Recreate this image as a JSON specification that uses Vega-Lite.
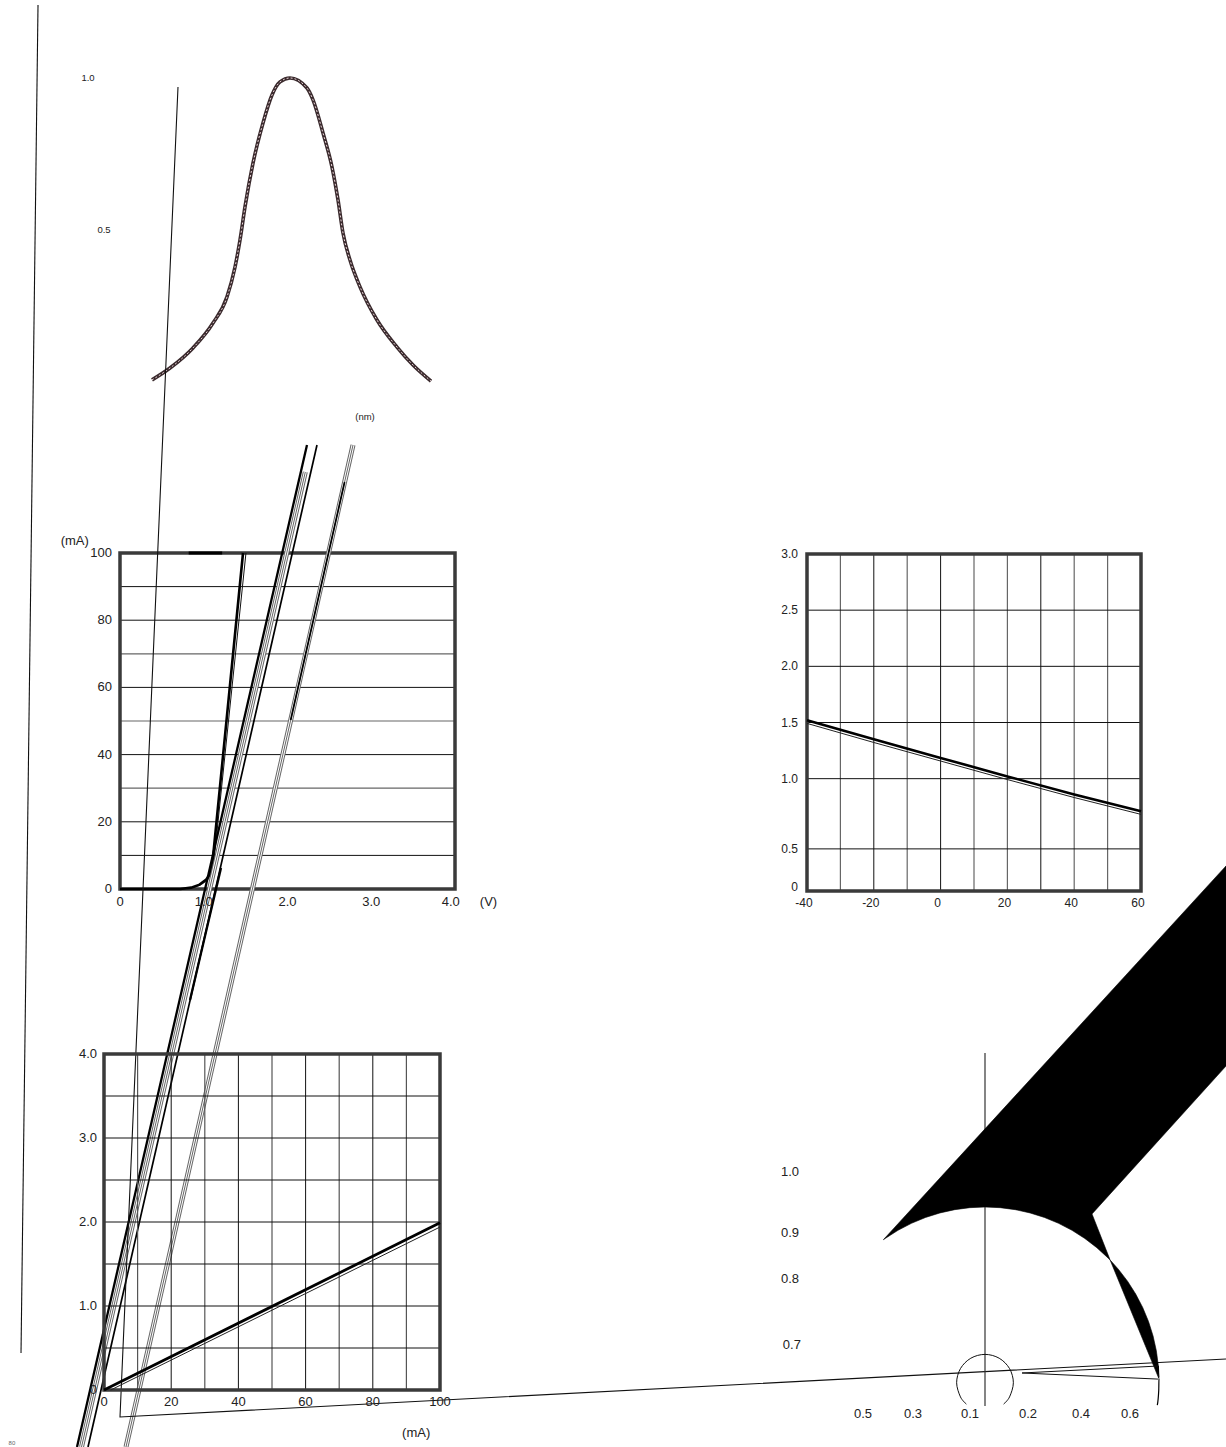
{
  "$schema": "https://vega.github.io/schema/vega-lite/v6.json",
  "width": 1226,
  "height": 1447,
  "padding": 0,
  "autosize": {"type": "none"},
  "background": "white",
  "config": {
    "view": {"stroke": null},
    "text": {"font": "Liberation Sans", "fontSize": 13, "fill": "#222"}
  },
  "datasets": {
    "spectrum": [
      {"x": 551, "y": 0.007}, {"x": 560, "y": 0.046}, {"x": 571.5, "y": 0.112}, {"x": 581.5, "y": 0.194},
      {"x": 588.5, "y": 0.28}, {"x": 592.5, "y": 0.378}, {"x": 595, "y": 0.467}, {"x": 597.5, "y": 0.576},
      {"x": 601.5, "y": 0.72}, {"x": 606.5, "y": 0.852}, {"x": 611, "y": 0.944}, {"x": 615, "y": 0.987},
      {"x": 620, "y": 1.0}, {"x": 628.5, "y": 0.967}, {"x": 631.5, "y": 0.928}, {"x": 636.5, "y": 0.819},
      {"x": 641, "y": 0.707}, {"x": 644, "y": 0.599}, {"x": 646.5, "y": 0.49}, {"x": 650, "y": 0.401},
      {"x": 655, "y": 0.313}, {"x": 663.5, "y": 0.204}, {"x": 673.5, "y": 0.115}, {"x": 681.5, "y": 0.056},
      {"x": 690.5, "y": 0.003}
    ],
    "ivBundles": [
      {"id": "g1", "i": 0, "x": 2.2125, "y": 124.1}, {"id": "g1", "i": 1, "x": -0.4597, "y": -166.07},
      {"id": "g2", "i": 0, "x": 2.7821, "y": 132.14}, {"id": "g2", "i": 1, "x": 0.0716, "y": -166.07}
    ],
    "circleD": [
      {"i": 0, "x": 0.107, "y": -0.133}, {"i": 1, "x": 0.141, "y": -0.0915}, {"i": 2, "x": 0.163, "y": -0.01},
      {"i": 3, "x": 0.141, "y": 0.0715}, {"i": 4, "x": 0.0815, "y": 0.131}, {"i": 5, "x": 0, "y": 0.153},
      {"i": 6, "x": -0.0815, "y": 0.131}, {"i": 7, "x": -0.141, "y": 0.0715}, {"i": 8, "x": -0.163, "y": -0.01},
      {"i": 9, "x": -0.141, "y": -0.0915}, {"i": 10, "x": -0.107, "y": -0.133}
    ]
  },
  "resolve": {"scale": {"x": "independent", "y": "independent"}},
  "layer": [
    {
      "encoding": {
        "x": {"field": "x", "type": "quantitative", "scale": {"domain": [540, 720], "range": [130, 490], "nice": false, "zero": false}, "axis": null},
        "y": {"field": "y", "type": "quantitative", "scale": {"domain": [0, 1], "range": [382, 78], "nice": false, "zero": false}, "axis": null}
      },
      "layer": [
        {"data": {"name": "spectrum"}, "mark": {"type": "line", "stroke": "#3a2a2d", "strokeWidth": 3.6, "interpolate": "monotone"}},
        {"data": {"name": "spectrum"}, "mark": {"type": "line", "stroke": "#ead5d9", "strokeWidth": 1, "strokeDash": [2, 2], "interpolate": "monotone"}},
        {
          "data": {"values": [
            {"x": 519, "y": 1.0, "label": "1.0"},
            {"x": 527, "y": 0.5, "label": "0.5"},
            {"x": 657.5, "y": -0.115, "label": "(nm)"}
          ]},
          "mark": {"type": "text", "fontSize": 9.5},
          "encoding": {"text": {"field": "label"}}
        }
      ]
    },
    {
      "encoding": {
        "x": {"field": "x", "type": "quantitative", "scale": {"domain": [0, 4], "range": [120, 455], "nice": false, "zero": false}, "axis": null},
        "y": {"field": "y", "type": "quantitative", "scale": {"domain": [0, 100], "range": [889, 553], "nice": false, "zero": false}, "axis": null}
      },
      "layer": [
        {
          "data": {"values": [{"x": 0, "x2": 4, "y": 10}, {"x": 0, "x2": 4, "y": 20}, {"x": 0, "x2": 4, "y": 40}, {"x": 0, "x2": 4, "y": 60}, {"x": 0, "x2": 4, "y": 80}, {"x": 0, "x2": 4, "y": 90}]},
          "mark": {"type": "rule", "stroke": "#111", "strokeWidth": 1},
          "encoding": {"x2": {"field": "x2"}}
        },
        {
          "data": {"values": [{"x": 0, "x2": 4, "y": 30}, {"x": 0, "x2": 4, "y": 50}, {"x": 0, "x2": 4, "y": 70}]},
          "mark": {"type": "rule", "stroke": "#666", "strokeWidth": 1.2},
          "encoding": {"x2": {"field": "x2"}}
        },
        {
          "data": {"values": [{"x": 0, "x2": 4, "y": 0, "y2": 100}]},
          "mark": {"type": "rect", "filled": false, "stroke": "#3a3a3a", "strokeWidth": 3.5},
          "encoding": {"x2": {"field": "x2"}, "y2": {"field": "y2"}}
        },
        {
          "data": {"values": [{"x": 0.82, "y": 100}, {"x": 1.22, "y": 100}]},
          "mark": {"type": "line", "stroke": "#000", "strokeWidth": 3}
        },
        {
          "data": {"values": [
            {"x": 0.78, "y": 0}, {"x": 0.9, "y": 0.6}, {"x": 1.0, "y": 1.8}, {"x": 1.08, "y": 3.6}, {"x": 1.13, "y": 5.5}
          ]},
          "mark": {"type": "line", "stroke": "#555", "strokeWidth": 1, "interpolate": "monotone"}
        },
        {
          "data": {"values": [{"x": 1.11, "y": 5.5}, {"x": 1.504, "y": 100}]},
          "mark": {"type": "line", "stroke": "#111", "strokeWidth": 1}
        },
        {
          "data": {"values": [
            {"x": 0, "y": 0}, {"x": 0.72, "y": 0}, {"x": 0.85, "y": 0.4}, {"x": 0.95, "y": 1.3},
            {"x": 1.03, "y": 2.8}, {"x": 1.075, "y": 4.4}, {"x": 1.098, "y": 6.25}, {"x": 1.469, "y": 100}
          ]},
          "mark": {"type": "line", "stroke": "#000", "strokeWidth": 2.6}
        },
        {"data": {"name": "ivBundles"}, "mark": {"type": "line", "stroke": "#666", "strokeWidth": 5}, "encoding": {"detail": {"field": "id"}, "order": {"field": "i"}}},
        {"data": {"name": "ivBundles"}, "mark": {"type": "line", "stroke": "#fff", "strokeWidth": 3}, "encoding": {"detail": {"field": "id"}, "order": {"field": "i"}}},
        {"data": {"name": "ivBundles"}, "mark": {"type": "line", "stroke": "#666", "strokeWidth": 1}, "encoding": {"detail": {"field": "id"}, "order": {"field": "i"}}},
        {
          "data": {"values": [
            {"id": "a", "i": 0, "x": 2.2328, "y": 132.14}, {"id": "a", "i": 1, "x": -0.5134, "y": -166.07},
            {"id": "s", "i": 0, "x": 1.206, "y": 6.25}, {"id": "s", "i": 1, "x": 0.836, "y": -33.04}
          ]},
          "mark": {"type": "line", "stroke": "#000", "strokeWidth": 2.3},
          "encoding": {"detail": {"field": "id"}, "order": {"field": "i"}}
        },
        {
          "data": {"values": [
            {"id": "b", "i": 0, "x": 2.3522, "y": 132.14}, {"id": "b", "i": 1, "x": -0.3821, "y": -166.07},
            {"id": "c", "i": 0, "x": 2.6818, "y": 121.13}, {"id": "c", "i": 1, "x": 2.0382, "y": 50.3}
          ]},
          "mark": {"type": "line", "stroke": "#000", "strokeWidth": 1.7},
          "encoding": {"detail": {"field": "id"}, "order": {"field": "i"}}
        },
        {
          "data": {"values": [
            {"id": "t", "i": 0, "x": 0.6925, "y": 238.69}, {"id": "t", "i": 1, "x": 0, "y": -157.14}, {"id": "t", "i": 2, "x": 13.206, "y": -139.88},
            {"id": "e", "i": 0, "x": -0.979, "y": 263.1}, {"id": "e", "i": 1, "x": -1.182, "y": -138.1}
          ]},
          "mark": {"type": "line", "stroke": "#111", "strokeWidth": 1.1},
          "encoding": {"detail": {"field": "id"}, "order": {"field": "i"}}
        },
        {
          "data": {"values": [{"x": 0, "y": 0, "label": "0"}, {"x": 1, "y": 0, "label": "1.0"}, {"x": 2, "y": 0, "label": "2.0"}, {"x": 3, "y": 0, "label": "3.0"}, {"x": 3.95, "y": 0, "label": "4.0"}]},
          "mark": {"type": "text", "baseline": "middle", "dy": 13},
          "encoding": {"text": {"field": "label"}}
        },
        {
          "data": {"values": [{"x": 0, "y": 0, "label": "0"}, {"x": 0, "y": 20, "label": "20"}, {"x": 0, "y": 40, "label": "40"}, {"x": 0, "y": 60, "label": "60"}, {"x": 0, "y": 80, "label": "80"}, {"x": 0, "y": 100, "label": "100"}]},
          "mark": {"type": "text", "align": "right", "baseline": "middle", "dx": -8},
          "encoding": {"text": {"field": "label"}}
        },
        {
          "data": {"values": [{"x": -0.54, "y": 103.6, "label": "(mA)"}, {"x": 4.4, "y": -3.9, "label": "(V)"}]},
          "mark": {"type": "text", "baseline": "middle"},
          "encoding": {"text": {"field": "label"}}
        }
      ]
    },
    {
      "encoding": {
        "x": {"field": "x", "type": "quantitative", "scale": {"domain": [-40, 60], "range": [807, 1141], "nice": false, "zero": false}, "axis": null},
        "y": {"field": "y", "type": "quantitative", "scale": {"domain": [0, 3], "range": [891, 554], "nice": false, "zero": false}, "axis": null}
      },
      "layer": [
        {
          "data": {"values": [{"x": -20, "y": 0, "y2": 3}, {"x": 0, "y": 0, "y2": 3}, {"x": 30, "y": 0, "y2": 3}]},
          "mark": {"type": "rule", "stroke": "#111", "strokeWidth": 1},
          "encoding": {"y2": {"field": "y2"}}
        },
        {
          "data": {"values": [{"x": -30, "y": 0, "y2": 3}, {"x": -10, "y": 0, "y2": 3}, {"x": 10, "y": 0, "y2": 3}, {"x": 20, "y": 0, "y2": 3}, {"x": 40, "y": 0, "y2": 3}, {"x": 50, "y": 0, "y2": 3}]},
          "mark": {"type": "rule", "stroke": "#666", "strokeWidth": 1.2},
          "encoding": {"y2": {"field": "y2"}}
        },
        {
          "data": {"values": [{"x": -40, "x2": 60, "y": 0.375}, {"x": -40, "x2": 60, "y": 1.0}, {"x": -40, "x2": 60, "y": 1.5}, {"x": -40, "x2": 60, "y": 2.0}, {"x": -40, "x2": 60, "y": 2.5}]},
          "mark": {"type": "rule", "stroke": "#111", "strokeWidth": 1},
          "encoding": {"x2": {"field": "x2"}}
        },
        {
          "data": {"values": [{"x": -40, "x2": 60, "y": 0, "y2": 3}]},
          "mark": {"type": "rect", "filled": false, "stroke": "#3a3a3a", "strokeWidth": 3.5},
          "encoding": {"x2": {"field": "x2"}, "y2": {"field": "y2"}}
        },
        {
          "data": {"values": [{"x": -40, "y": 1.492}, {"x": -20, "y": 1.322}, {"x": 0, "y": 1.157}, {"x": 20, "y": 0.992}, {"x": 40, "y": 0.832}, {"x": 60, "y": 0.682}]},
          "mark": {"type": "line", "stroke": "#222", "strokeWidth": 1}
        },
        {
          "data": {"values": [{"x": -40, "y": 1.52}, {"x": -20, "y": 1.35}, {"x": 0, "y": 1.185}, {"x": 20, "y": 1.02}, {"x": 40, "y": 0.86}, {"x": 60, "y": 0.71}]},
          "mark": {"type": "line", "stroke": "#000", "strokeWidth": 2.6}
        },
        {
          "data": {"values": [{"x": -40, "y": 0, "label": "-40"}, {"x": -20, "y": 0, "label": "-20"}, {"x": 0, "y": 0, "label": "0"}, {"x": 20, "y": 0, "label": "20"}, {"x": 40, "y": 0, "label": "40"}, {"x": 60, "y": 0, "label": "60"}]},
          "mark": {"type": "text", "baseline": "middle", "dy": 12, "dx": -3, "fontSize": 12},
          "encoding": {"text": {"field": "label"}}
        },
        {
          "data": {"values": [{"x": -40, "y": 0.375, "label": "0.5"}, {"x": -40, "y": 1.0, "label": "1.0"}, {"x": -40, "y": 1.5, "label": "1.5"}, {"x": -40, "y": 2.0, "label": "2.0"}, {"x": -40, "y": 2.5, "label": "2.5"}, {"x": -40, "y": 3.0, "label": "3.0"}]},
          "mark": {"type": "text", "align": "right", "baseline": "middle", "dx": -9, "fontSize": 12},
          "encoding": {"text": {"field": "label"}}
        },
        {
          "data": {"values": [{"x": -40, "y": 0, "label": "0"}]},
          "mark": {"type": "text", "align": "right", "baseline": "middle", "dx": -9, "dy": -4, "fontSize": 12},
          "encoding": {"text": {"field": "label"}}
        }
      ]
    },
    {
      "encoding": {
        "x": {"field": "x", "type": "quantitative", "scale": {"domain": [0, 100], "range": [104, 440], "nice": false, "zero": false}, "axis": null},
        "y": {"field": "y", "type": "quantitative", "scale": {"domain": [0, 4], "range": [1390, 1054], "nice": false, "zero": false}, "axis": null}
      },
      "layer": [
        {
          "data": {"values": [{"x": 20, "y": 0, "y2": 4}, {"x": 40, "y": 0, "y2": 4}, {"x": 60, "y": 0, "y2": 4}, {"x": 80, "y": 0, "y2": 4}]},
          "mark": {"type": "rule", "stroke": "#111", "strokeWidth": 1},
          "encoding": {"y2": {"field": "y2"}}
        },
        {
          "data": {"values": [{"x": 10, "y": 0, "y2": 4}, {"x": 30, "y": 0, "y2": 4}, {"x": 50, "y": 0, "y2": 4}, {"x": 70, "y": 0, "y2": 4}, {"x": 90, "y": 0, "y2": 4}]},
          "mark": {"type": "rule", "stroke": "#555", "strokeWidth": 1.2},
          "encoding": {"y2": {"field": "y2"}}
        },
        {
          "data": {"values": [{"x": 0, "x2": 100, "y": 0.5}, {"x": 0, "x2": 100, "y": 1.0}, {"x": 0, "x2": 100, "y": 1.5}, {"x": 0, "x2": 100, "y": 2.0}, {"x": 0, "x2": 100, "y": 2.5}, {"x": 0, "x2": 100, "y": 3.0}, {"x": 0, "x2": 100, "y": 3.5}]},
          "mark": {"type": "rule", "stroke": "#111", "strokeWidth": 1},
          "encoding": {"x2": {"field": "x2"}}
        },
        {
          "data": {"values": [{"x": 0, "x2": 100, "y": 0, "y2": 4}]},
          "mark": {"type": "rect", "filled": false, "stroke": "#3a3a3a", "strokeWidth": 3.5},
          "encoding": {"x2": {"field": "x2"}, "y2": {"field": "y2"}}
        },
        {
          "data": {"values": [{"x": 2, "y": 0}, {"x": 100, "y": 1.94}]},
          "mark": {"type": "line", "stroke": "#222", "strokeWidth": 1}
        },
        {
          "data": {"values": [{"x": 0, "y": 0}, {"x": 100, "y": 1.99}]},
          "mark": {"type": "line", "stroke": "#000", "strokeWidth": 2.8}
        },
        {
          "data": {"values": [{"x": 0, "y": 0, "label": "0"}, {"x": 20, "y": 0, "label": "20"}, {"x": 40, "y": 0, "label": "40"}, {"x": 60, "y": 0, "label": "60"}, {"x": 80, "y": 0, "label": "80"}, {"x": 100, "y": 0, "label": "100"}]},
          "mark": {"type": "text", "baseline": "middle", "dy": 12},
          "encoding": {"text": {"field": "label"}}
        },
        {
          "data": {"values": [{"x": 0, "y": 0, "label": "0"}, {"x": 0, "y": 1, "label": "1.0"}, {"x": 0, "y": 2, "label": "2.0"}, {"x": 0, "y": 3, "label": "3.0"}, {"x": 0, "y": 4, "label": "4.0"}]},
          "mark": {"type": "text", "align": "right", "baseline": "middle", "dx": -7},
          "encoding": {"text": {"field": "label"}}
        },
        {
          "data": {"values": [{"x": 92.9, "y": -0.512, "label": "(mA)"}]},
          "mark": {"type": "text", "baseline": "middle"},
          "encoding": {"text": {"field": "label"}}
        },
        {
          "data": {"values": [{"x": -27.4, "y": -0.631, "label": "80"}]},
          "mark": {"type": "text", "baseline": "middle", "fontSize": 6, "fill": "#666"},
          "encoding": {"text": {"field": "label"}}
        }
      ]
    },
    {
      "encoding": {
        "x": {"field": "x", "type": "quantitative", "scale": {"domain": [-1, 1], "range": [811, 1159], "nice": false, "zero": false}, "axis": null},
        "y": {"field": "y", "type": "quantitative", "scale": {"domain": [0, 1], "range": [1381, 1207], "nice": false, "zero": false}, "axis": null}
      },
      "layer": [
        {
          "data": {"values": [{"x": 0, "y": 1.885, "y2": -0.144}]},
          "mark": {"type": "rule", "stroke": "#333", "strokeWidth": 1.2},
          "encoding": {"y2": {"field": "y2"}}
        },
        {
          "data": {"values": [
            {"g": "main", "i": 0, "x": -0.584, "y": 0.812}, {"g": "main", "i": 1, "x": 1.385, "y": 2.96},
            {"g": "main", "i": 2, "x": 1.385, "y": 1.81}, {"g": "main", "i": 3, "x": 0.615, "y": 0.96},
            {"g": "main", "i": 4, "x": 0.7193, "y": 0.6947}, {"g": "main", "i": 5, "x": 0.7071, "y": 0.7071},
            {"g": "main", "i": 6, "x": 0.6428, "y": 0.766}, {"g": "main", "i": 7, "x": 0.5736, "y": 0.8192},
            {"g": "main", "i": 8, "x": 0.5, "y": 0.866}, {"g": "main", "i": 9, "x": 0.4226, "y": 0.9063},
            {"g": "main", "i": 10, "x": 0.342, "y": 0.9397}, {"g": "main", "i": 11, "x": 0.2588, "y": 0.9659},
            {"g": "main", "i": 12, "x": 0.1736, "y": 0.9848}, {"g": "main", "i": 13, "x": 0.0872, "y": 0.9962},
            {"g": "main", "i": 14, "x": 0, "y": 1}, {"g": "main", "i": 15, "x": -0.0872, "y": 0.9962},
            {"g": "main", "i": 16, "x": -0.1736, "y": 0.9848}, {"g": "main", "i": 17, "x": -0.2588, "y": 0.9659},
            {"g": "main", "i": 18, "x": -0.342, "y": 0.9397}, {"g": "main", "i": 19, "x": -0.4226, "y": 0.9063},
            {"g": "main", "i": 20, "x": -0.5, "y": 0.866}, {"g": "main", "i": 21, "x": -0.5736, "y": 0.8192},
            {"g": "main", "i": 22, "x": -0.584, "y": 0.812},
            {"g": "sliver", "i": 0, "x": 0.7193, "y": 0.6947}, {"g": "sliver", "i": 1, "x": 0.998, "y": 0.017},
            {"g": "sliver", "i": 2, "x": 0.9962, "y": 0.0872}, {"g": "sliver", "i": 3, "x": 0.9848, "y": 0.1736},
            {"g": "sliver", "i": 4, "x": 0.9659, "y": 0.2588}, {"g": "sliver", "i": 5, "x": 0.9397, "y": 0.342},
            {"g": "sliver", "i": 6, "x": 0.9063, "y": 0.4226}, {"g": "sliver", "i": 7, "x": 0.866, "y": 0.5},
            {"g": "sliver", "i": 8, "x": 0.8192, "y": 0.5736}, {"g": "sliver", "i": 9, "x": 0.766, "y": 0.6428},
            {"g": "sliver", "i": 10, "x": 0.7193, "y": 0.6947}
          ]},
          "mark": {"type": "line", "fill": "#000", "stroke": "#000", "strokeWidth": 0.6},
          "encoding": {"detail": {"field": "g"}, "order": {"field": "i"}}
        },
        {
          "data": {"values": [{"i": 0, "x": 0.9962, "y": 0.0872}, {"i": 1, "x": 0.9998, "y": 0.0175}, {"i": 2, "x": 0.9986, "y": -0.0523}, {"i": 3, "x": 0.9903, "y": -0.139}]},
          "mark": {"type": "line", "stroke": "#000", "strokeWidth": 1.2, "interpolate": "monotone"},
          "encoding": {"order": {"field": "i"}}
        },
        {
          "data": {"name": "circleD"},
          "mark": {"type": "line", "stroke": "#111", "strokeWidth": 1, "interpolate": "cardinal"},
          "encoding": {"order": {"field": "i"}}
        },
        {
          "data": {"values": [{"i": 0, "x": 0.994, "y": 0.086}, {"i": 1, "x": 0.213, "y": 0.046}, {"i": 2, "x": 0.994, "y": 0.011}]},
          "mark": {"type": "line", "stroke": "#111", "strokeWidth": 1},
          "encoding": {"order": {"field": "i"}}
        },
        {
          "data": {"values": [
            {"x": -1.121, "y": 1.201, "label": "1.0"}, {"x": -1.121, "y": 0.851, "label": "0.9"},
            {"x": -1.121, "y": 0.586, "label": "0.8"}, {"x": -1.11, "y": 0.207, "label": "0.7"},
            {"x": -0.701, "y": -0.19, "label": "0.5"}, {"x": -0.414, "y": -0.19, "label": "0.3"},
            {"x": -0.086, "y": -0.19, "label": "0.1"}, {"x": 0.247, "y": -0.19, "label": "0.2"},
            {"x": 0.552, "y": -0.19, "label": "0.4"}, {"x": 0.833, "y": -0.19, "label": "0.6"}
          ]},
          "mark": {"type": "text", "baseline": "middle"},
          "encoding": {"text": {"field": "label"}}
        }
      ]
    }
  ]
}
